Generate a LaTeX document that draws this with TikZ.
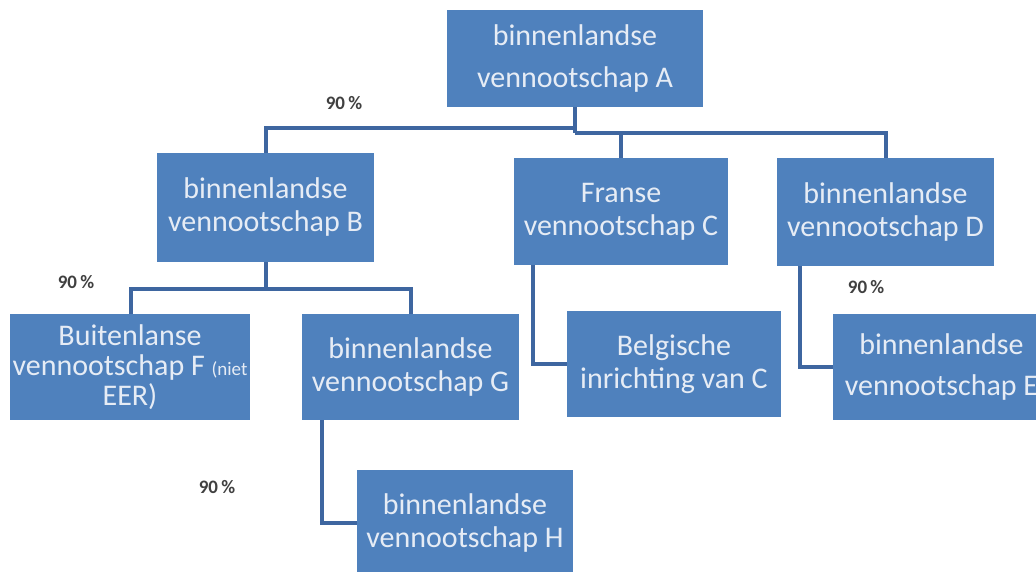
\documentclass[tikz,border=0pt]{standalone}
\usepackage{fontspec}
\setmainfont{Carlito}
\usetikzlibrary{positioning,calc}
\definecolor{boxblue}{HTML}{4F81BD}
\definecolor{lineblue}{HTML}{3E66A0}
\definecolor{boxtext}{HTML}{E6ECF5}
\tikzset{
  entity/.style={fill=boxblue, align=center, inner sep=2pt, text=boxtext, font=\fontsize{30}{33}\selectfont},
  link/.style={draw=lineblue, line width=4pt},
  share/.style={font=\bfseries\fontsize{19}{21}\selectfont, text=black!75}
}

\begin{document}
\begin{tikzpicture}[x=1pt,y=-1pt]
\useasboundingbox (0,0) rectangle (1036,572);
\node[entity, minimum width=256pt, minimum height=97pt, font=\fontsize{30}{42}\selectfont] (a) at (575,58.5) {binnenlandse\\vennootschap A};
\node[entity, minimum width=217pt, minimum height=109pt] (b) at (265.5,207.5) {binnenlandse\\vennootschap B};
\node[entity, minimum width=214pt, minimum height=107pt] (c) at (621,211.5) {Franse\\vennootschap C};
\node[entity, minimum width=217pt, minimum height=108pt] (d) at (885.5,212) {binnenlandse\\vennootschap D};
\node[entity, minimum width=240pt, minimum height=106pt, font=\fontsize{30}{30}\selectfont] (f) at (130,367) {Buitenlanse\\vennootschap F {\fontsize{19}{20}\selectfont(niet}\\EER)};
\node[entity, minimum width=217pt, minimum height=106pt] (g) at (410.5,367) {binnenlandse\\vennootschap G};
\node[entity, minimum width=214pt, minimum height=106pt] (bel) at (674,364) {Belgische\\inrichting van C};
\node[entity, minimum width=217pt, minimum height=106pt, font=\fontsize{30}{41}\selectfont] (e) at (941.5,367) {binnenlandse\\vennootschap E};
\node[entity, minimum width=216pt, minimum height=106pt] (h) at (465,523) {binnenlandse\\vennootschap H};

% percentages
\node[share] (p1) at (344,103) {90\,\%};
\node[share] (p2) at (76,282) {90\,\%};
\node[share] (p3) at (866,287) {90\,\%};
\node[share] (p4) at (217,487) {90\,\%};

% connectors
\coordinate (ja) at (575,128);
\coordinate (jb) at (575,133);
\coordinate (jc) at (265.5,289);
\draw[link] (a.south) -- (jb);
\draw[link] (ja) -| (b.north);
\draw[link] (jb) -| (d.north);
\draw[link] (c.north) -- (c.north |- jb);
\draw[link] (b.south) -- (jc);
\draw[link] (jc) -| ($(f.north)+(1,0)$);
\draw[link] (jc) -| (g.north);
\draw[link] ($(c.south west)+(19,0)$) |- (bel.west);
\draw[link] ($(d.south west)+(23,0)$) |- (e.west);
\draw[link] ($(g.south west)+(20,0)$) |- (h.west);
\end{tikzpicture}
\end{document}
